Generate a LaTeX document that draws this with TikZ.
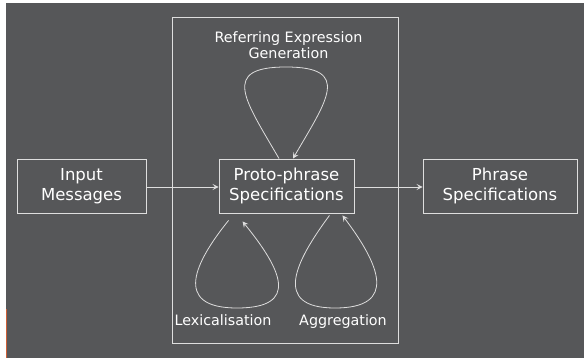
\documentclass[tikz,border=0pt]{standalone}
\usepackage{fontspec}
\setmainfont{DejaVu Sans}
\usetikzlibrary{arrows.meta}
\definecolor{bg}{RGB}{86,87,89}
\definecolor{ln}{RGB}{222,222,222}
\definecolor{accent}{RGB}{205,95,55}
\tikzset{
  box/.style={draw=ln, line width=0.9pt, inner sep=0pt, align=center, text=white,
    font=\fontsize{16.5}{20}\selectfont},
  lbl/.style={text=white, inner sep=0pt, align=center, font=\fontsize{14.3}{16.5}\selectfont},
  arr/.style={draw=ln, line width=0.8pt, -{Stealth[length=6pt,width=6pt,inset=2.5pt]}},
}
\begin{document}
\begin{tikzpicture}[x=1pt,y=-1pt]
\fill[white] (0,0) rectangle (584,358);
\fill[bg] (6,3) rectangle (584,358);
\useasboundingbox (0,0) rectangle (584,358);
\draw[accent, line width=1pt] (6.5,309) -- (6.5,358);
\node[draw=ln, line width=0.9pt, inner sep=0pt, minimum width=226pt, minimum height=326pt] (frame) at (285,180) {};
\node[box, minimum width=129pt, minimum height=54pt] (input) at (81.5,186) {Input\\Messages};
\node[box, minimum width=135pt, minimum height=54pt] (proto) at (286.5,186) {Proto-phrase\\Specifications};
\node[box, minimum width=154pt, minimum height=54pt] (phrase) at (500,186) {Phrase\\Specifications};
\node[lbl, anchor=north] (reg) at (288.5,31) {Referring Expression\\Generation};
\node[lbl, anchor=base] (lex) at (223,326) {Lexicalisation};
\node[lbl, anchor=base] (agg) at (343,326) {Aggregation};
\draw[arr] (input.east |- 0,187) -- (proto.west |- 0,187);
\draw[arr] (proto.east |- 0,187) -- (phrase.west |- 0,187);
% top loop
\coordinate (t1) at ([xshift=-7.5pt]proto.north);
\coordinate (t2) at ([xshift=6.5pt]proto.north);
\draw[arr] (t1) .. controls (245,100) and (220,67) .. (286,67)
  .. controls (352,67) and (327,100) .. (t2);
% lexicalisation loop
\coordinate (l1) at ([xshift=10pt,yshift=-7pt]proto.south west);
\coordinate (l2) at ([xshift=24pt,yshift=-8pt]proto.south west);
\draw[arr] (l1) .. controls (195,262) and (172,308) .. (237,308)
  .. controls (300,308) and (282,270) .. (l2);
% aggregation loop
\coordinate (a1) at ([xshift=-25pt,yshift=-2pt]proto.south east);
\coordinate (a2) at ([xshift=-12pt,yshift=-2pt]proto.south east);
\draw[arr] (a1) .. controls (295,262) and (272,308) .. (335,308)
  .. controls (398,308) and (380,265) .. (a2);
\end{tikzpicture}
\end{document}
